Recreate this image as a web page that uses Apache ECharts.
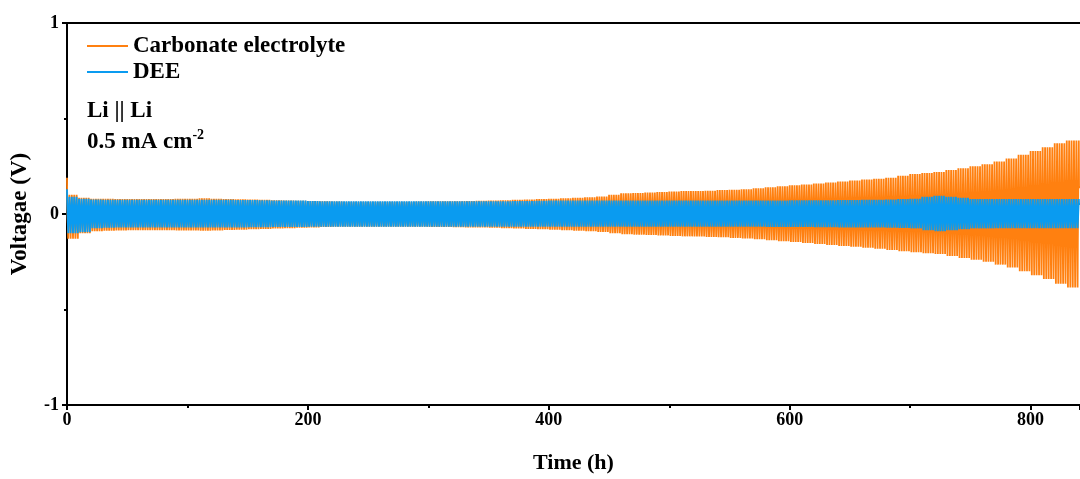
<!DOCTYPE html>
<html>
<head>
<meta charset="utf-8">
<script src="https://cdn.jsdelivr.net/npm/echarts@6/dist/echarts.min.js"></script>
<style>html,body{margin:0;padding:0;background:#fff;}#c{width:1080px;height:479px;}</style>
</head>
<body>
<div id="c"></div>
<script>
// ---- data ----
const seriesNames = ['Carbonate electrolyte', 'DEE'];
const xTicks = [0, 200, 400, 600, 800];
const yTicks = [-1, 0, 1];
// envelope readings every 10 h (segment k covers 10k .. 10k+10 h)
const segLen = 10;
const halfCycleH = 1;
const tEnd = 841;
// Carbonate electrolyte (V)
const carbStart = 0.19;
const carbUpper = [0.10,0.085,0.08,0.08,0.078,0.078,0.078,0.078,0.078,0.08,
  0.08,0.082,0.08,0.078,0.077,0.076,0.074,0.072,0.07,0.069,
  0.068,0.066,0.065,0.064,0.064,0.064,0.064,0.064,0.064,0.065,
  0.066,0.066,0.067,0.068,0.069,0.07,0.072,0.074,0.076,0.078,
  0.08,0.082,0.085,0.088,0.092,0.10,0.108,0.11,0.113,0.115,
  0.118,0.12,0.12,0.122,0.125,0.127,0.13,0.135,0.14,0.145,
  0.15,0.155,0.16,0.165,0.17,0.175,0.18,0.185,0.19,0.20,
  0.21,0.215,0.22,0.23,0.24,0.25,0.26,0.275,0.29,0.31,
  0.33,0.35,0.37,0.385];
const carbLower = [-0.13,-0.10,-0.09,-0.088,-0.086,-0.085,-0.085,-0.085,-0.085,-0.086,
  -0.086,-0.087,-0.086,-0.084,-0.082,-0.08,-0.078,-0.076,-0.074,-0.072,
  -0.07,-0.068,-0.067,-0.066,-0.066,-0.066,-0.066,-0.066,-0.066,-0.067,
  -0.068,-0.068,-0.069,-0.07,-0.071,-0.072,-0.074,-0.076,-0.078,-0.08,
  -0.082,-0.085,-0.088,-0.09,-0.094,-0.10,-0.106,-0.108,-0.11,-0.112,
  -0.115,-0.117,-0.118,-0.12,-0.122,-0.125,-0.128,-0.132,-0.137,-0.142,
  -0.147,-0.152,-0.157,-0.162,-0.167,-0.172,-0.177,-0.182,-0.188,-0.195,
  -0.2,-0.205,-0.21,-0.22,-0.23,-0.24,-0.25,-0.265,-0.28,-0.30,
  -0.32,-0.34,-0.365,-0.385];
const carbPlateau = [0.06,0.058,0.056,0.056,0.056,0.056,0.056,0.056,0.056,0.056,
  0.056,0.056,0.056,0.056,0.055,0.055,0.054,0.053,0.052,0.051,
  0.05,0.05,0.049,0.049,0.049,0.049,0.049,0.049,0.049,0.049,
  0.05,0.05,0.05,0.05,0.051,0.052,0.053,0.054,0.055,0.056,
  0.058,0.06,0.062,0.064,0.066,0.07,0.074,0.076,0.078,0.079,
  0.08,0.081,0.082,0.083,0.084,0.085,0.086,0.087,0.088,0.089,
  0.09,0.091,0.092,0.093,0.094,0.095,0.096,0.097,0.098,0.1,
  0.1,0.102,0.104,0.106,0.108,0.11,0.112,0.115,0.118,0.12,
  0.125,0.13,0.135,0.14];
// DEE (V)
const deeStart = 0.13;
const deeUpper = [0.09,0.08,0.076,0.075,0.075,0.075,0.075,0.075,0.075,0.075,
  0.075,0.075,0.074,0.074,0.073,0.073,0.072,0.071,0.07,0.07,
  0.068,0.067,0.066,0.066,0.066,0.066,0.066,0.066,0.066,0.066,
  0.066,0.066,0.066,0.066,0.066,0.067,0.067,0.068,0.068,0.069,
  0.07,0.07,0.07,0.07,0.07,0.07,0.07,0.07,0.07,0.07,
  0.07,0.07,0.07,0.07,0.07,0.07,0.07,0.07,0.071,0.071,
  0.072,0.072,0.072,0.072,0.073,0.073,0.074,0.075,0.076,0.078,
  0.08,0.09,0.095,0.09,0.085,0.078,0.078,0.078,0.078,0.078,
  0.078,0.078,0.078,0.078];
const deeLower = [-0.10,-0.095,-0.075,-0.072,-0.07,-0.07,-0.07,-0.07,-0.07,-0.07,
  -0.07,-0.07,-0.07,-0.07,-0.07,-0.069,-0.069,-0.068,-0.068,-0.068,
  -0.067,-0.067,-0.067,-0.067,-0.067,-0.067,-0.067,-0.067,-0.067,-0.067,
  -0.067,-0.067,-0.067,-0.067,-0.067,-0.067,-0.067,-0.067,-0.067,-0.067,
  -0.067,-0.067,-0.067,-0.067,-0.067,-0.067,-0.067,-0.067,-0.067,-0.067,
  -0.067,-0.067,-0.067,-0.067,-0.067,-0.067,-0.067,-0.067,-0.068,-0.068,
  -0.068,-0.068,-0.069,-0.069,-0.07,-0.07,-0.07,-0.071,-0.072,-0.073,
  -0.075,-0.085,-0.09,-0.085,-0.08,-0.075,-0.075,-0.075,-0.075,-0.075,
  -0.075,-0.075,-0.075,-0.075];
const deePlateau = [0.055,0.052,0.05,0.05,0.05,0.05,0.05,0.05,0.05,0.05,
  0.05,0.05,0.05,0.05,0.05,0.05,0.05,0.05,0.049,0.049,
  0.048,0.048,0.048,0.048,0.048,0.048,0.048,0.048,0.048,0.048,
  0.048,0.048,0.048,0.048,0.048,0.048,0.048,0.048,0.049,0.049,
  0.05,0.05,0.05,0.05,0.05,0.05,0.05,0.05,0.05,0.05,
  0.05,0.05,0.05,0.05,0.05,0.05,0.05,0.05,0.05,0.05,
  0.05,0.05,0.05,0.05,0.05,0.05,0.05,0.051,0.052,0.053,
  0.055,0.06,0.062,0.06,0.057,0.054,0.053,0.052,0.052,0.052,
  0.052,0.052,0.052,0.052];

function buildWave(start, up, low, plat) {
  const pts = [[0, start]];
  const n = Math.ceil(tEnd / halfCycleH);
  for (let k = 0; k < n; k++) {
    const t0 = k * halfCycleH;
    const seg = Math.min(up.length - 1, Math.floor(t0 / segLen));
    const pos = k % 2 === 0;
    const peak = pos ? up[seg] : low[seg];
    const p = pos ? plat[seg] : -plat[seg];
    if (k > 0) pts.push([t0, peak]);
    pts.push([t0 + 0.2 * halfCycleH, p]);
    pts.push([t0 + halfCycleH, p]);
  }
  return pts;
}
const carbData = buildWave(carbStart, carbUpper, carbLower, carbPlateau);
const deeData = buildWave(deeStart, deeUpper, deeLower, deePlateau);

const FONT = 'Liberation Serif';
const chart = echarts.init(document.getElementById('c'), null, {renderer: 'canvas'});
chart.setOption({
  animation: false,
  backgroundColor: '#fff',
  grid: {left: 67, right: 0, top: 23, bottom: 72, containLabel: false},
  legend: {
    orient: 'vertical', left: 87, top: 34, padding: 0, icon: 'rect', itemWidth: 41, itemHeight: 2, itemGap: 2,
    textStyle: {fontFamily: FONT, fontWeight: 'bold', fontSize: 23, color: '#000', lineHeight: 24},
    data: seriesNames
  },
  graphic: [
    {type: 'text', left: 87, top: 100, style: {text: 'Li || Li', font: 'bold 23px "Liberation Serif"', fill: '#000'}},
    {type: 'text', left: 87, top: 128, style: {
      text: '{a|0.5 mA cm}{s|-2}',
      rich: {a: {fontFamily: FONT, fontWeight: 'bold', fontSize: 23, color: '#000', verticalAlign: 'bottom'},
             s: {fontFamily: FONT, fontWeight: 'bold', fontSize: 14, color: '#000', verticalAlign: 'top', padding: [0,0,12,0]}}
    }}
  ],
  xAxis: [{
    type: 'value', min: 0, max: tEnd, interval: 200,
    name: 'Time (h)', nameLocation: 'middle', nameGap: 47,
    nameTextStyle: {fontFamily: FONT, fontWeight: 'bold', fontSize: 22, color: '#000'},
    axisLine: {show: true, onZero: false, lineStyle: {color: '#000', width: 2}},
    axisTick: {show: true, length: 5, lineStyle: {color: '#000', width: 2}},
    minorTick: {show: true, splitNumber: 2, length: 3, lineStyle: {color: '#000', width: 2}},
    splitLine: {show: false},
    axisLabel: {fontFamily: FONT, fontWeight: 'bold', fontSize: 18, color: '#000', margin: 6, showMaxLabel: false,
      formatter: v => (xTicks.indexOf(v) >= 0 ? String(v) : '')}
  }, {
    type: 'value', position: 'top', min: 0, max: tEnd,
    axisLine: {show: true, onZero: false, lineStyle: {color: '#000', width: 2}},
    axisTick: {show: false}, minorTick: {show: false}, axisLabel: {show: false}, splitLine: {show: false}
  }],
  yAxis: {
    type: 'value', min: -1, max: 1, interval: 1,
    name: 'Voltagae (V)', nameLocation: 'middle', nameGap: 35,
    nameTextStyle: {fontFamily: FONT, fontWeight: 'bold', fontSize: 23, color: '#000'},
    axisLine: {show: true, onZero: false, lineStyle: {color: '#000', width: 2}},
    axisTick: {show: true, length: 5, lineStyle: {color: '#000', width: 2}},
    minorTick: {show: true, splitNumber: 2, length: 3, lineStyle: {color: '#000', width: 2}},
    splitLine: {show: false},
    axisLabel: {fontFamily: FONT, fontWeight: 'bold', fontSize: 18, color: '#000', margin: 8,
      formatter: v => (yTicks.indexOf(v) >= 0 ? String(v) : '')}
  },
  series: [
    {name: seriesNames[0], type: 'line', xAxisIndex: 0, data: carbData, showSymbol: false, symbol: 'none',
     lineStyle: {color: '#FF8010', width: 1.8}, itemStyle: {color: '#FF8010'}, z: 2},
    {name: seriesNames[1], type: 'line', xAxisIndex: 0, data: deeData, showSymbol: false, symbol: 'none',
     lineStyle: {color: '#0A9BF0', width: 1.8}, itemStyle: {color: '#0A9BF0'}, z: 3}
  ]
});
</script>
</body>
</html>
